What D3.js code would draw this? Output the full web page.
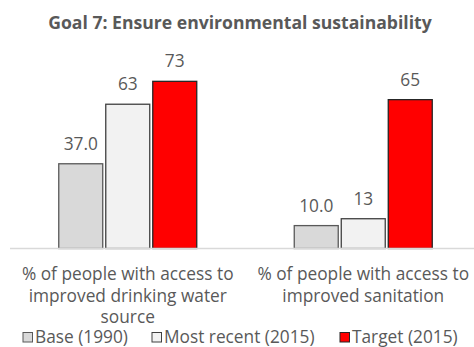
<!DOCTYPE html>
<html>
<head>
<meta charset="utf-8">
<script src="https://cdn.jsdelivr.net/npm/d3@7"></script>
<style>
  html, body { margin: 0; padding: 0; background: #fff; }
  svg { display: block; }
  text { font-family: "Open Sans", "Noto Sans", sans-serif; fill: #595959; }
</style>
</head>
<body>
<svg id="chart" width="474" height="347"></svg>
<script>
// MDG Goal 7 indicators
const title = "Goal 7: Ensure environmental sustainability";
const categories = [
  "% of people with access to improved drinking water source",
  "% of people with access to improved sanitation"
];
const seriesNames = ["Base (1990)", "Most recent (2015)", "Target (2015)"];
const baseValues = [37.0, 10.0];
const recentValues = [63, 13];
const targetValues = [73, 65];
const valueLabels = [["37.0", "63", "73"], ["10.0", "13", "65"]];
const seriesColors = ["#d9d9d9", "#f2f2f2", "#ff0000"];
const seriesStrokes = ["#595959", "#404040", "#262626"];

const W = 474, H = 347;
const FS = 17.3;
const svg = d3.select("#chart");

const rows = categories.map((c, i) => ({
  category: c,
  values: [baseValues[i], recentValues[i], targetValues[i]],
  labels: valueLabels[i]
}));

const x0 = d3.scaleBand().domain(categories).range([10, 481]).padding(0);
const x1 = d3.scaleBand().domain(seriesNames).range([-69.5, 69.5]).paddingInner(0.043);
const y = d3.scaleLinear().domain([0, 80]).range([248.5, 65.3]);

// title
svg.append("text")
  .attr("x", 240).attr("y", 29)
  .attr("text-anchor", "middle")
  .style("font-weight", "bold")
  .style("font-size", "17.6px")
  .text(title);

// bars
const groups = svg.selectAll("g.grp").data(rows).join("g")
  .attr("class", "grp")
  .attr("transform", d => `translate(${x0(d.category) + x0.bandwidth() / 2},0)`);

groups.selectAll("rect").data(d => d.values.map((v, k) => ({ v, k, s: seriesNames[k] })))
  .join("rect")
  .attr("x", d => x1(d.s) + 0.5)
  .attr("y", d => y(d.v))
  .attr("width", x1.bandwidth() - 1)
  .attr("height", d => y(0) - y(d.v))
  .attr("fill", d => seriesColors[d.k])
  .attr("stroke", d => seriesStrokes[d.k])
  .attr("stroke-width", 1.3);

groups.selectAll("text.val").data(d => d.values.map((v, k) => ({ v, k, s: seriesNames[k], t: d.labels[k] })))
  .join("text")
  .attr("class", "val")
  .attr("x", d => x1(d.s) + x1.bandwidth() / 2)
  .attr("y", d => y(d.v) - 14)
  .attr("text-anchor", "middle")
  .style("font-size", FS + "px")
  .text(d => d.t);

// category axis
const axis = d3.axisBottom(x0).tickSize(0).tickPadding(0).tickFormat("");
const ax = svg.append("g").attr("transform", `translate(0,${y(0)})`).call(axis);
ax.select(".domain").attr("d", `M10,0H474`).attr("stroke", "#d9d9d9").attr("stroke-width", 1.3);

// wrapped category labels
function wrapLines(str, maxW, size) {
  const probe = svg.append("text").style("font-size", size + "px");
  const words = str.split(" ");
  const lines = [];
  let cur = [];
  words.forEach(w => {
    const test = cur.concat(w).join(" ");
    probe.text(test);
    if (probe.node().getComputedTextLength() > maxW && cur.length) {
      lines.push(cur.join(" "));
      cur = [w];
    } else cur.push(w);
  });
  if (cur.length) lines.push(cur.join(" "));
  probe.remove();
  return lines;
}

categories.forEach(c => {
  const lines = wrapLines(c, 222, FS);
  const t = svg.append("text")
    .attr("x", x0(c) + x0.bandwidth() / 2)
    .attr("y", 280)
    .attr("text-anchor", "middle")
    .style("font-size", FS + "px");
  lines.forEach((ln, i) => t.append("tspan")
    .attr("x", x0(c) + x0.bandwidth() / 2)
    .attr("dy", i === 0 ? 0 : 21.5)
    .text(ln));
});

// legend
const legendX = [23, 152, 340];
const leg = svg.append("g");
seriesNames.forEach((s, k) => {
  leg.append("rect")
    .attr("x", legendX[k]).attr("y", 332.5)
    .attr("width", 9.5).attr("height", 9.5)
    .attr("fill", seriesColors[k])
    .attr("stroke", seriesStrokes[k])
    .attr("stroke-width", 1);
  leg.append("text")
    .attr("x", legendX[k] + 12).attr("y", 342.5)
    .style("font-size", FS + "px")
    .text(s);
});
</script>
</body>
</html>
